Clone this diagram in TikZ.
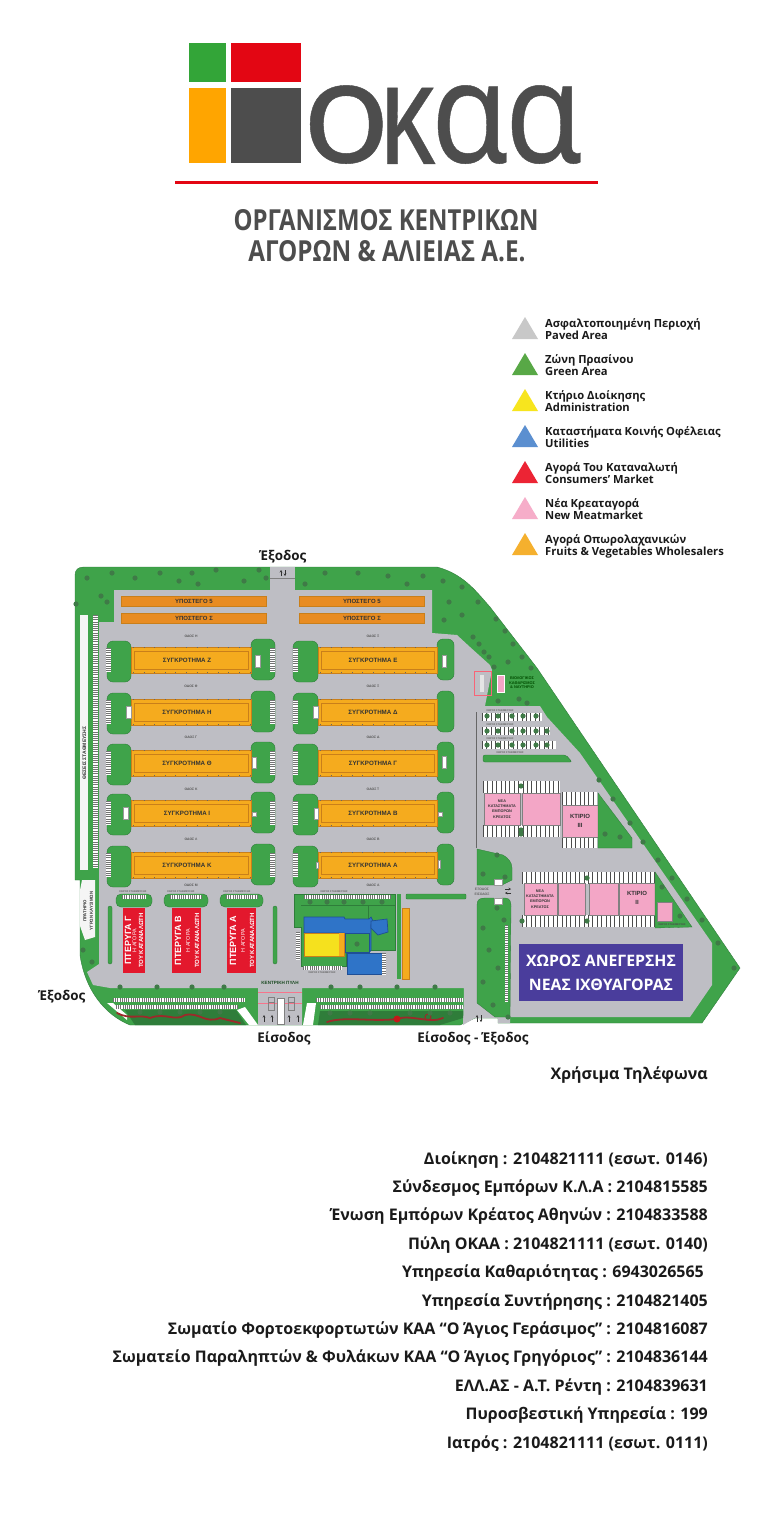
\documentclass[tikz,border=0pt]{standalone}
\usepackage{fontspec}
\usetikzlibrary{arrows.meta}
\setmainfont{Open Sans}
\newfontfamily\semif{Open Sans}
\newfontfamily\tinyf{Liberation Sans}
\newfontfamily\logof[FakeBold=0.3]{Noto Sans}
\definecolor{mapgreen}{HTML}{3FA34A}
\definecolor{darkgreen}{HTML}{2F7D3A}
\definecolor{treeg}{HTML}{3F7A47}
\definecolor{mapgray}{HTML}{BEBEC4}
\definecolor{maporange}{HTML}{F5AB1E}
\definecolor{orangeedge}{HTML}{C97F1A}
\definecolor{barorange}{HTML}{E88C22}
\definecolor{mapred}{HTML}{E3182D}
\definecolor{mappink}{HTML}{F3A6C6}
\definecolor{mapblue}{HTML}{2F74C8}
\definecolor{bluedge}{HTML}{1F4F96}
\definecolor{mapyellow}{HTML}{F5E11E}
\definecolor{fishblue}{HTML}{4A3D9C}
\definecolor{logogray}{HTML}{4D4D4D}
\definecolor{logored}{HTML}{E30613}
\definecolor{logogreen}{HTML}{33A538}
\definecolor{logoorange}{HTML}{FFA500}
\definecolor{txt}{HTML}{1A1A1A}
\definecolor{squig}{HTML}{9C2A2A}
\tikzset{
  x=1pt,y=-1pt,
  island/.style={fill=mapgreen,draw=darkgreen,line width=.4pt,rounded corners=6pt},
  complexbox/.style={fill=maporange,draw=orangeedge,line width=.7pt},
  barbox/.style={fill=barorange,draw=orangeedge,line width=.3pt},
  marketbox/.style={fill=mapred},
  pinkbox/.style={fill=mappink,draw=black!50,line width=.3pt},
  bluebld/.style={fill=mapblue,draw=bluedge,line width=.7pt},
  whitepad/.style={fill=white,draw=black!40,line width=.2pt},
  tree/.style={fill=treeg},
  tinylab/.style={font=\tinyf\bfseries\fontsize{6.2}{6.2}\selectfont,text=black!80,inner sep=0pt},
  shedlab/.style={font=\tinyf\bfseries\fontsize{6}{6}\selectfont,text=black!80,inner sep=0pt},
  roadlab/.style={font=\tinyf\bfseries\fontsize{3.4}{3.4}\selectfont,text=black!65,inner sep=0pt},
  microlab/.style={font=\tinyf\bfseries\fontsize{2.6}{2.6}\selectfont,text=black!60,inner sep=0pt},
  legtext/.style={font=\semif\bfseries\fontsize{11.2}{11.8}\selectfont,text=txt,anchor=north west,align=left,inner sep=0pt},
  phone/.style={font=\semif\bfseries\fontsize{16}{16}\selectfont,text=txt,anchor=base east,inner sep=0pt},
  maplabel/.style={font=\semif\bfseries\fontsize{13.4}{15}\selectfont,text=txt,inner sep=0pt},
  marketbig/.style={font=\tinyf\bfseries\fontsize{9}{10}\selectfont,text=white,inner sep=0pt,rotate=90},
  marketsmall/.style={font=\tinyf\bfseries\fontsize{6}{6}\selectfont,text=white,inner sep=0pt,rotate=90},
  smallarrow/.style={-{Stealth[length=2.5pt,width=2.5pt]},line width=.6pt,black!80}
}
\newcommand\hpark[4]{%
  \pgfmathsetmacro\pmid{(#2+#4)/2}\pgfmathsetmacro\pwid{abs(#4-#2)}%
  \fill[white] (#1,#2) rectangle (#3,#4);
  \draw[black!55,line width=\pwid pt,dash pattern=on .7pt off 1.5pt] (#1,\pmid)--(#3,\pmid);}
\newcommand\vpark[4]{%
  \pgfmathsetmacro\pmid{(#1+#3)/2}\pgfmathsetmacro\pwid{abs(#3-#1)}%
  \fill[white] (#1,#2) rectangle (#3,#4);
  \draw[black!55,line width=\pwid pt,dash pattern=on .7pt off 1.5pt] (\pmid,#2)--(\pmid,#4);}
\newcommand\widepark[4]{%
  \pgfmathsetmacro\pmid{(#2+#4)/2}\pgfmathsetmacro\pwid{abs(#4-#2)}%
  \fill[white] (#1,#2) rectangle (#3,#4);
  \draw[black!70,line width=\pwid pt,dash pattern=on .8pt off 3.6pt] (#1,\pmid)--(#3,\pmid);}
\begin{document}
\begin{tikzpicture}
\useasboundingbox (0,0) rectangle (768,1536);
\fill[white] (0,0) rectangle (768,1536);
% logo
\fill[logogreen] (189,43) rectangle (226,82);
\fill[logored] (231,43) rectangle (301,82);
\fill[logoorange] (189,88) rectangle (226,163);
\fill[logogray] (231,88) rectangle (301,163);
\node[inner sep=0pt,text=logogray,anchor=south west] (logoA) at (302,164) {\resizebox{88pt}{77pt}{\logof ο}};
\node[inner sep=0pt,text=logogray,anchor=south west] (logoB) at (378,164) {\resizebox{58pt}{76pt}{\logof κ}};
\node[inner sep=0pt,text=logogray,anchor=south west] (logoC) at (431,164) {\resizebox{78pt}{77pt}{\logof α}};
\node[inner sep=0pt,text=logogray,anchor=south west] (logoD) at (505,164) {\resizebox{78pt}{77pt}{\logof α}};
\fill[logored] (175,181) rectangle (598,184);
\node[inner sep=0pt,text=logogray,font=\semif\bfseries\fontsize{25}{25}\selectfont] (org1) at (386,220) {\resizebox{305pt}{21pt}{ΟΡΓΑΝΙΣΜΟΣ ΚΕΝΤΡΙΚΩΝ}};
\node[inner sep=0pt,text=logogray,font=\semif\bfseries\fontsize{25}{25}\selectfont] (org2) at (387,251) {\resizebox{277pt}{21pt}{ΑΓΟΡΩΝ \& ΑΛΙΕΙΑΣ Α.Ε.}};
% legend
\foreach \yy/\col/\aa/\bb [count=\i] in {
 317/C8C8C8/Ασφαλτοποιημένη Περιοχή/Paved Area,
 353/58A846/Ζώνη Πρασίνου/Green Area,
 389/F7E51E/Κτήριο Διοίκησης/Administration,
 425/5B8FD0/Καταστήματα Κοινής Οφέλειας/Utilities,
 461/EC2434/Αγορά Του Καταναλωτή/Consumers’ Market,
 497/F6ADC9/Νέα Κρεαταγορά/New Meatmarket,
 533/F5B02E/Αγορά Οπωρολαχανικών/Fruits \& Vegetables Wholesalers}{
  \definecolor{legc}{HTML}{\col}
  \fill[legc] (525,\yy) -- (538,\yy+22) -- (512,\yy+22) -- cycle;
  \node[legtext] (leg\i) at (545,\yy+1.5) {\aa\\\bb};
}
% site ground
\fill[mapgreen,draw=darkgreen,line width=.4pt] (75,575) .. controls (75,570) and (78,567) .. (84,567) -- (437,567)
  .. controls (463,574) and (475,590) .. (490,607) -- (537,668) -- (740,968) -- (702,1023) -- (498,1023) -- (498,1018) -- (475,1018) -- (460,1025)
  -- (130,1025) .. controls (105,1015) and (85,990) .. (80,955) -- (80,880) -- (75,880) -- cycle;
\fill[mapgray] (114,590) -- (432,590) -- (432,633) -- (457,635) -- (470,647) -- (490,665) -- (492,670) -- (485,706) -- (540,706)
  -- (547,717) -- (580,753) -- (712,943) -- (712,985) -- (690,1017) -- (510,1017) -- (510,1023) -- (498,1023) -- (498,1018) -- (475,1018) -- (463,1025)
  -- (464,988) -- (302,988) -- (302,1025) -- (258,1025) -- (258,988) -- (110,988) -- (93,985) -- (87,972) -- (99,964) -- (99,622) -- (114,622) -- cycle;
\fill[mapgray] (270,567) rectangle (295,591);
\draw[black!50,line width=.3pt] (270,578) -- (295,578);
\draw[smallarrow] (281,576) -- (281,570);
\draw[smallarrow] (285,570) -- (285,576);
% western parking strip
\fill[white!92!gray] (80,615) rectangle (88,870);
\vpark{93}{615}{98}{868}
\node[tinylab,rotate=90,font=\tinyf\bfseries\fontsize{5}{5}\selectfont] (stath) at (84.5,753) {ΘΕΣΕΙΣ ΣΤΑΘΜΕΥΣΗΣ};
% fuel station
\fill[white!92!gray] (82,880) -- (95,880) -- (95,937) -- (85,940) -- (80,926) -- (80,890) -- cycle;
\node[tinylab,rotate=90,align=center,font=\tinyf\bfseries\fontsize{4.3}{6.5}\selectfont] (fuel) at (88,911) {ΠΡΑΤΗΡΙΟ\\ΥΓΡΩΝ ΚΑΥΣΙΜΩΝ};
% sheds
\foreach \yy/\aa/\nm in {596/5/a,613/Σ/b}{
  \fill[barbox] (121,\yy) rectangle (266,\yy+10);
  \fill[barbox] (299,\yy) rectangle (424,\yy+10);
  \node[shedlab] (shl\nm) at (194,\yy+5) {ΥΠΟΣΤΕΓΟ \aa};
  \node[shedlab] (shr\nm) at (362,\yy+5) {ΥΠΟΣΤΕΓΟ \aa};
}
% road labels
\foreach \yy/\aa/\bb [count=\i] in {636/Η/Ξ,686/Θ/Ξ,737/Γ/Δ,789/Κ/Τ,839/Λ/Β,885/Μ/Α}{
  \node[roadlab] (rdl\i) at (191,\yy) {ΟΔΟΣ \aa};
  \node[roadlab] (rdr\i) at (373,\yy) {ΟΔΟΣ \bb};
}
% complexes
\foreach \yy/\aa/\bb [count=\i] in {647/Ζ/Ε,699/Η/Δ,750/Θ/Γ,800/Ι/Β,852/Κ/Α}{
  \path[island] (107,\yy-6) rectangle (131,\yy+35);
  \path[island] (251,\yy-8) rectangle (275,\yy+33);
  \path[island] (293,\yy-6) rectangle (318,\yy+35);
  \path[island] (437,\yy-8) rectangle (454,\yy+33);
  \vpark{106}{\yy+1}{111}{\yy+25}
  \vpark{270}{\yy+1}{275}{\yy+25}
  \vpark{293}{\yy+1}{298}{\yy+25}
  \fill[complexbox] (131,\yy) rectangle (251,\yy+26);
  \fill[complexbox] (318,\yy) rectangle (437,\yy+26);
  \draw[orangeedge,line width=.3pt] (134,\yy+4) rectangle (248,\yy+22);
  \draw[orangeedge,line width=.3pt] (321,\yy+4) rectangle (434,\yy+22);
  \draw[black!60,line width=1pt,dash pattern=on .6pt off 10pt] (133,\yy+.5) -- (250,\yy+.5);
  \draw[black!60,line width=1pt,dash pattern=on .6pt off 10pt] (133,\yy+25.5) -- (250,\yy+25.5);
  \draw[black!60,line width=1pt,dash pattern=on .6pt off 10pt] (320,\yy+.5) -- (436,\yy+.5);
  \draw[black!60,line width=1pt,dash pattern=on .6pt off 10pt] (320,\yy+25.5) -- (436,\yy+25.5);
  \node[tinylab] (cl\i) at (187,\yy+13) {ΣΥΓΚΡΟΤΗΜΑ \aa};
  \node[tinylab] (cr\i) at (373,\yy+13) {ΣΥΓΚΡΟΤΗΜΑ \bb};
}
% white pads on islands
\foreach \xa/\ya/\xb/\yb in {255/655/260/667,126/706/131/718,252/757/256/768,442/655/446/667,313/706/318/718,442/756/446/768,123/807/128/819,252/812/256/816,314/808/318/819,438/812/442/816,316/862/318/868,438/860/440/868}{
  \fill[whitepad] (\xa,\ya) rectangle (\xb,\yb);
}
% consumers' market wings
\foreach \xa/\xb/\ca/\cb/\aa/\nm/\big/\smA/\smB in {123/145/116/152/Γ/g/128/134.5/141,172/201/164/208/Β/b/178/188/197,227/256/220/263/Α/a/233/243/252}{
  \path[island,rounded corners=5pt] (\ca,894) rectangle (\cb,907);
  \hpark{\ca+6}{895}{\cb-6}{899}
  \fill[marketbox] (\xa,908) rectangle (\xb,973);
  \node[marketbig] (mk\nm) at (\big,940.5) {ΠΤΕΡΥΓΑ \aa};
  \node[marketsmall,font=\tinyf\fontsize{5.4}{5.4}\selectfont] (mks\nm) at (\smA,940.5) {Η ΑΓΟΡΑ};
  \node[marketsmall] (mkt\nm) at (\smB,940.5) {ΤΟΥ ΚΑΤΑΝΑΛΩΤΗ};
}
\path[island,rounded corners=2pt] (108,906) rectangle (112,964);
\path[island,rounded corners=2pt] (273,906) rectangle (277,964);
% administration block
\fill[mapgreen,draw=darkgreen,line width=.4pt] (294,894) -- (395,894) -- (395,950) -- (346,950) -- (346,966) -- (301,966) -- (301,927) -- (294,927) -- cycle;
\hpark{304}{895}{391}{899}
\draw[darkgreen,line width=.4pt] (301,905) -- (395,905);
\draw[darkgreen,line width=.4pt] (368,905) -- (368,919);
\vpark{296}{932}{300}{960}
\hpark{303}{966}{342}{970}
\fill[bluebld] (304,917) -- (344,917) -- (345,919) -- (369,919) -- (371,917) -- (373,921) -- (371,925) -- (371,950) -- (369,953) -- (346,953) -- (344,933) -- (304,933) -- cycle;
\fill[mapgreen,draw=bluedge,line width=.4pt] (345,933) rectangle (369,952);
\fill[bluebld] (371,921) -- (387,919) -- (388,932) -- (378,935) -- (371,928) -- cycle;
\fill[mapyellow,draw=orangeedge,line width=.7pt] (304,933) rectangle (344,956);
\fill[maporange] (339,933) rectangle (344,956);
\fill[bluebld] (347,953) rectangle (382,974);
\vpark{382}{953}{386}{975}
\fill[mapgreen] (397,894) rectangle (401,979);
\fill[maporange,draw=orangeedge,line width=.4pt] (402,908) rectangle (409,979);
\path[island,rounded corners=1pt] (406,894) rectangle (466,899);
\node[microlab] (admp1) at (334,891.5) {ΧΩΡΟΣ ΣΤΑΘΜΕΥΣΗΣ};
\node[microlab] (admp2) at (322,972.5) {ΧΩΡΟΣ ΣΤΑΘΜΕΥΣΗΣ};
\foreach \xx/\nn in {116/g,164/b,220/a}{\node[microlab,anchor=west] (cmp\nn) at (\xx+3,892) {ΧΩΡΟΣ ΣΤΑΘΜΕΥΣΗΣ};}
% central gate
\node[tinylab,font=\tinyf\bfseries\fontsize{4.6}{4.6}\selectfont,text=darkgreen!60!black] (gate) at (280,983) {ΚΕΝΤΡΙΚΗ ΠΥΛΗ};
\draw[mappink!70!red,line width=.4pt] (258,992) -- (302,992);
\draw[mappink!70!red,line width=.4pt] (258,1003) -- (302,1003);
\fill[white,draw=black!50,line width=.2pt] (277,998) rectangle (284,1024);
\draw[black!50,line width=.3pt] (268,997) rectangle (274,1010);
\draw[black!50,line width=.3pt] (268,1002) -- (274,1002);
\draw[black!50,line width=.3pt] (288,997) rectangle (294,1010);
\draw[black!50,line width=.3pt] (288,1002) -- (294,1002);
\foreach \xx in {264,272,289,298}{\draw[smallarrow] (\xx,1022) -- (\xx,1015);}
% southern green strips
\fill[white] (245,1007) -- (258,1025) -- (258,1025) -- (249,1025) -- (237,1010) -- cycle;
\fill[white] (107,1003) -- (113,1003) -- (127,1015) -- (127,1020) -- cycle;
\hpark{113}{998}{245}{1002}
\hpark{116}{1005}{238}{1009}
\fill[white] (307,1003) -- (316,1003) -- (313,1025) -- (303,1025) -- cycle;
\hpark{316}{998}{463}{1002}
\hpark{320}{1005}{463}{1009}
\fill[darkgreen] (125,1010) -- (236,1010) -- (246,1025) -- (135,1025) -- cycle;
\fill[darkgreen] (320,1011) -- (463,1011) -- (463,1018) -- (440,1025) -- (318,1025) -- cycle;
\draw[squig,line width=1.8pt,line cap=round] (117,1013) .. controls (130,1020) and (140,1014) .. (150,1018) .. controls (165,1012) and (175,1022) .. (185,1015) .. controls (200,1012) and (205,1024) .. (220,1018) -- (240,1023);
\draw[squig,line width=1.8pt,line cap=round] (327,1022) .. controls (345,1016) and (370,1022) .. (397,1019) .. controls (410,1014) and (430,1024) .. (443,1018);
\fill[squig!60!red] (397,1019) circle[radius=3.5];
\draw[squig,line width=1pt] (428,1017) circle[radius=3];
% east road edge and north-east services
\draw[black!60,line width=.8pt] (476,712) -- (476,848);
\draw[mappink!60!red,line width=.3pt] (474,671) rectangle (491,695);
\fill[white!80!gray] (480,675) rectangle (484,692);
\fill[mappink,draw=white,line width=.5pt] (497,675) rectangle (504,692);
\node[tinylab,align=center,text=black!70!green,font=\tinyf\bfseries\fontsize{3.9}{4.6}\selectfont] (bio) at (522,683) {ΒΙΟΛΟΓΙΚΟΣ\\ΚΑΘΑΡΙΣΜΟΣ\\\& ΝΑΥΤΗΡΙΟ};
\foreach \yy/\xx in {713/542,727/550,741/556}{
  \widepark{482}{\yy}{\xx}{\yy+8}
  \node[microlab] at (500,\yy-2) {ΧΩΡΟΣ ΣΤΑΘΜΕΥΣΗΣ};
}
\path[island,rounded corners=2pt] (483,755) -- (566,755) -- (572,762) -- (483,762) -- cycle;
\node[microlab] (p4) at (510,752.5) {ΧΩΡΟΣ ΣΤΑΘΜΕΥΣΗΣ};
% building group III
\widepark{483}{781}{560}{793}
\widepark{483}{825}{560}{837}
\fill[pinkbox] (484,793) rectangle (520,825);
\fill[pinkbox] (522,793) rectangle (560,825);
\node[tinylab,align=center,font=\tinyf\bfseries\fontsize{3.8}{5.2}\selectfont] (nk1) at (502,809) {ΝΕΑ\\ΚΑΤΑΣΤΗΜΑΤΑ\\ΕΜΠΟΡΩΝ\\ΚΡΕΑΤΟΣ};
\widepark{562}{792}{597}{805}
\widepark{562}{837}{597}{848}
\fill[pinkbox] (562,805) rectangle (598,837);
\node[tinylab,align=center,font=\tinyf\bfseries\fontsize{6}{8.5}\selectfont] (k3) at (580,821) {ΚΤΙΡΙΟ\\III};
\fill[mapgreen,draw=darkgreen,line width=.3pt] (598,793) -- (632,838) -- (632,848) -- (598,848) -- cycle;
% building group II
\widepark{522}{872}{655}{884}
\widepark{522}{915}{655}{927}
\fill[pinkbox] (524,883) rectangle (557,915);
\fill[pinkbox] (558,883) rectangle (585,915);
\fill[pinkbox] (589,883) rectangle (618,915);
\fill[pinkbox] (619,883) rectangle (655,915);
\node[tinylab,align=center,font=\tinyf\bfseries\fontsize{3.8}{5.2}\selectfont] (nk2) at (540,899) {ΝΕΑ\\ΚΑΤΑΣΤΗΜΑΤΑ\\ΕΜΠΟΡΩΝ\\ΚΡΕΑΤΟΣ};
\node[tinylab,align=center,font=\tinyf\bfseries\fontsize{6}{8.5}\selectfont] (k2) at (637,898) {ΚΤΙΡΙΟ\\II};
\fill[mapgreen,draw=darkgreen,line width=.3pt] (655,872) -- (692,927) -- (655,928) -- cycle;
\fill[pinkbox] (657,902) rectangle (672,921);
\node[microlab,text=black!70] (k2p) at (672,925) {ΧΩΡΟΣ ΣΤΑΘΜΕΥΣΗΣ};
% east islands and gate
\fill[mapgreen,draw=darkgreen,line width=.3pt] (477,849) -- (503,855) .. controls (508,858) and (512,862) .. (512,868) -- (512,880) -- (502,885) -- (477,885) -- cycle;
\fill[mapgreen,draw=darkgreen,line width=.3pt] (477,905) .. controls (477,899) and (480,898) .. (486,898) -- (505,898) .. controls (510,898) and (511,902) .. (511,906) -- (510,1017) -- (495,1017) -- (477,1003) -- cycle;
\fill[mapgray] (494,885) rectangle (502,898);
\fill[whitepad] (494,879) rectangle (502,885);
\fill[whitepad] (494,898) rectangle (502,904);
\node[microlab,align=center,font=\tinyf\bfseries\fontsize{3.4}{5}\selectfont] (gate2) at (482,892) {ΕΞΟΔΟΣ\\ΕΙΣΟΔΟΣ};
\draw[smallarrow] (505,889) -- (511,889);
\draw[smallarrow] (511,893) -- (505,893);
\vpark{505}{925}{508}{1002}
\draw[smallarrow] (477,1022) -- (477,1015);
\draw[smallarrow] (481,1015) -- (481,1022);
% new fish market plot
\fill[fishblue] (519,944) rectangle (683,1001);
\node[font=\semif\bfseries\fontsize{15.8}{24}\selectfont,text=white,align=center,inner sep=0pt] (fish) at (601,972.5) {ΧΩΡΟΣ ΑΝΕΓΕΡΣΗΣ\\ΝΕΑΣ ΙΧΘΥΑΓΟΡΑΣ};
% trees
\foreach \p in {(87,578),(112,573),(135,578),(160,573),(192,573),(179,581),(198,584),(216,570),(244,581),(259,570),(266,578),(101,596),(107,602),(76,604),
 (325,573),(358,573),(388,576),(423,576),(407,584),(305,584),(443,581),(462,587),(478,602),(449,602),(462,615),(444,620),(496,619),(505,631),(473,637),(479,644),(484,652),(489,657),(513,644),(522,657),(508,662),(531,668),(494,667),(498,701),(519,699),(527,703),
 (599,780),(613,799),(630,823),(643,842),(658,860),(672,878),(687,899),(702,920),(718,943),(734,968),
 (483,928),(489,950),(498,968),(483,982),(493,1005),(504,920),(508,1017),(497,908),(497,855),(483,874),(505,877),
 (605,834),(620,837),(662,887),(680,916),(120,987),(157,987),(192,987),(224,987),(331,987),(360,987),(397,987),(435,987),
 (310,902),(327,902),(344,902),(363,902),(382,902),(357,944),(83,950),(92,962),
 (487,716),(498,716),(512,716),(523,716),(536,716),(487,731),(498,731),(512,731),(523,731),(536,731),(547,731),(487,745),(498,745),(512,745),(523,745),(536,745),(547,745),
 (521,786),(521,830),(521,834),(587,878),(587,921),(522,921),
 (140,1012),(160,1012),(180,1012),(200,1012),(220,1012),(330,1013),(350,1013),(370,1013),(410,1013),(430,1013),(450,1013)}{
  \fill[tree] \p circle[radius=2.6];
}
% map labels
\node[maplabel] (ex1) at (283,557) {Έξοδος};
\node[maplabel] (ex2) at (62,997) {Έξοδος};
\node[maplabel] (en1) at (284,1038) {Είσοδος};
\node[maplabel] (en2) at (473,1038) {Είσοδος - Έξοδος};
% phones
\node[phone] (ph0) at (708,1079) {Χρήσιμα Τηλέφωνα};
\foreach \yy/\tt [count=\i] in {
 1164/Διοίκηση : 2104821111 (εσωτ. 0146),
 1192/Σύνδεσμος Εμπόρων Κ.Λ.Α : 2104815585,
 1220/Ένωση Εμπόρων Κρέατος Αθηνών : 2104833588,
 1249/Πύλη ΟΚΑΑ : 2104821111 (εσωτ. 0140),
 1306/Υπηρεσία Συντήρησης : 2104821405,
 1334/Σωματίο Φορτοεκφορτωτών ΚΑΑ “Ο Άγιος Γεράσιμος” : 2104816087,
 1362/Σωματείο Παραληπτών \& Φυλάκων ΚΑΑ “Ο Άγιος Γρηγόριος” : 2104836144,
 1391/ΕΛΛ.ΑΣ - Α.Τ. Ρέντη : 2104839631,
 1419/Πυροσβεστική Υπηρεσία : 199,
 1448/Ιατρός : 2104821111 (εσωτ. 0111)}{
  \node[phone] (ph\i) at (708,\yy) {\tt};
}
\node[phone] (phc) at (704,1277) {Υπηρεσία Καθαριότητας : 6943026565};
\end{tikzpicture}
\end{document}
